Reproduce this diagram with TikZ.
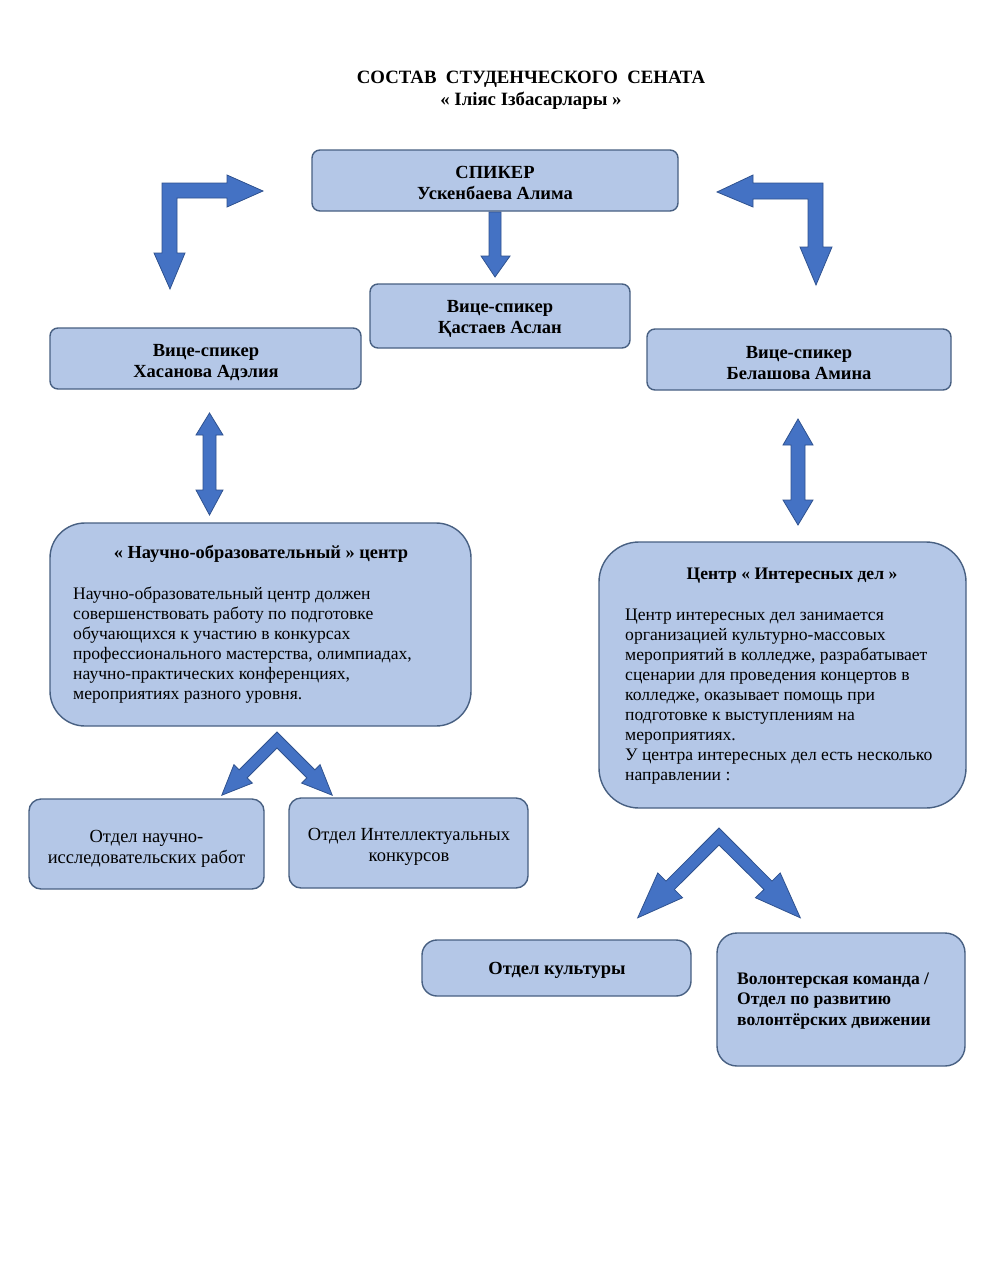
\documentclass[tikz,border=0pt]{standalone}
\usepackage{fontspec}
\setmainfont{Liberation Serif}
\definecolor{boxfill}{RGB}{180,199,231}
\definecolor{boxline}{RGB}{72,96,130}
\definecolor{arrowfill}{RGB}{68,114,196}
\definecolor{arrowline}{RGB}{47,82,143}
\tikzset{
  box/.style={draw=boxline, fill=boxfill, line width=1.4pt, rounded corners=#1, inner sep=0pt, align=center,
    font=\fontsize{18.5}{21}\selectfont},
  box/.default=8pt,
  bbox/.style={box=#1, font=\fontsize{18.5}{21}\selectfont\bfseries},
  bbox/.default=8pt,
  blockarrow/.style={fill=arrowfill, draw=arrowline, line width=0.8pt, line join=miter},
  txt/.style={inner sep=0pt, font=\fontsize{17.6}{20}\selectfont},
  btxt/.style={inner sep=0pt, font=\fontsize{18.4}{20.5}\selectfont\bfseries},
}
\begin{document}
\begin{tikzpicture}[x=1pt,y=-1pt]
\fill[white] (0,0) rectangle (981,1280);
\useasboundingbox (0,0) rectangle (981,1280);

% title
\node[inner sep=0pt, align=center, font=\fontsize{18.8}{22}\selectfont\bfseries] (title) at (531,90)
  {СОСТАВ\ \ СТУДЕНЧЕСКОГО\ \ СЕНАТА\\« Іліяс Ізбасарлары »};

% boxes
\node[bbox, minimum width=366pt, minimum height=61pt] (speaker) at (495,180.5) {};
\node[btxt, align=center, font=\fontsize{18.5}{21}\selectfont\bfseries] (speakerT) at (495,183) {СПИКЕР\\Ускенбаева Алима};
\node[bbox, minimum width=260pt, minimum height=64pt] (vicec) at (500,316) {};
\node[btxt, align=center, font=\fontsize{18.5}{21}\selectfont\bfseries] (vicecT) at (500,318.5) {Вице-спикер\\Қастаев Аслан};
\node[bbox, minimum width=311pt, minimum height=61pt] (vicel) at (205.5,358.5) {};
\node[btxt, align=center, font=\fontsize{18.5}{21}\selectfont\bfseries] (vicelT) at (206,362.5) {Вице-спикер\\Хасанова Адэлия};
\node[bbox, minimum width=304pt, minimum height=61pt] (vicer) at (799,359.5) {};
\node[btxt, align=center, font=\fontsize{18.5}{21}\selectfont\bfseries] (vicerT) at (799,363.5) {Вице-спикер\\Белашова Амина};

\node[box=35pt, minimum width=421pt, minimum height=203pt] (nauch) at (260.5,624.5) {};
\node[btxt] (nauchT) at (261,554) {« Научно-образовательный » центр};
\node[txt, align=left, anchor=west] (nauchB) at (73,645.5)
  {Научно-образовательный центр должен\\совершенствовать работу по подготовке\\обучающихся к участию в конкурсах\\профессионального мастерства, олимпиадах,\\научно-практических конференциях,\\мероприятиях разного уровня.};

\node[box=40pt, minimum width=367pt, minimum height=266pt] (inter) at (782.5,675) {};
\node[btxt, font=\fontsize{17.6}{20}\selectfont\bfseries] (interT) at (792,576) {Центр « Интересных дел »};
\node[txt, align=left, anchor=west] (interB) at (625,697)
  {Центр интересных дел занимается\\организацией культурно-массовых\\мероприятий в колледже, разрабатывает\\сценарии для проведения концертов в\\колледже, оказывает помощь при\\подготовке к выступлениям на\\мероприятиях.\\У центра интересных дел есть несколько\\направлении :};

\node[box=12pt, minimum width=235pt, minimum height=90pt] (dept1) at (146.5,844) {};
\node[txt, align=center, font=\fontsize{18.5}{21}\selectfont] (dept1T) at (146.5,849)
  {Отдел научно-\\исследовательских работ};
\node[box=12pt, minimum width=239pt, minimum height=90pt] (dept2) at (408.5,843) {};
\node[txt, align=center, font=\fontsize{18.5}{21}\selectfont] (dept2T) at (409,847)
  {Отдел Интеллектуальных\\конкурсов};
\node[bbox=15pt, minimum width=269pt, minimum height=56pt] (cult) at (556.5,968) {};
\node[btxt, font=\fontsize{18.5}{21}\selectfont\bfseries] (cultT) at (557,970) {Отдел культуры};
\node[box=20pt, minimum width=248pt, minimum height=133pt] (vol) at (841,999.5) {};
\node[btxt, align=left, anchor=west, font=\fontsize{17.6}{20.5}\selectfont\bfseries] (volT) at (737,1001)
  {Волонтерская команда /\\Отдел по развитию\\волонтёрских движении};

% bent arrow left
\draw[blockarrow] (170,289) -- (185,253) -- (177,253) -- (177,198) -- (227,198) -- (227,207) -- (263,191)
  -- (227,175) -- (227,183) -- (162,183) -- (162,253) -- (154,253) -- cycle;
% bent arrow right
\draw[blockarrow] (717,192) -- (753,175) -- (753,183) -- (823,183) -- (823,247) -- (832,247) -- (816,285)
  -- (800,247) -- (808,247) -- (808,199) -- (753,199) -- (753,207) -- cycle;
% center down arrow
\draw[blockarrow] (489,212) -- (501,212) -- (501,256) -- (510,256) -- (495,277) -- (481,256) -- (489,256) -- cycle;
% double arrow left
\draw[blockarrow] (209.5,413) -- (223,435) -- (216,435) -- (216,490) -- (223,490) -- (209.5,515)
  -- (196,490) -- (203,490) -- (203,435) -- (196,435) -- cycle;
% double arrow right
\draw[blockarrow] (798,419) -- (813,445) -- (805,445) -- (805,500) -- (813,500) -- (798,525)
  -- (783,500) -- (791,500) -- (791,445) -- (783,445) -- cycle;
% fork left
\draw[blockarrow] (277,732) -- (314.9,769.9) -- (320.1,764.7) -- (332.2,795.2) -- (301.7,783.1) -- (306.9,777.9)
  -- (277,748) -- (247.1,777.9) -- (252.3,783.1) -- (221.8,795.2) -- (233.9,764.7) -- (239.1,769.9) -- cycle;
% fork right
\draw[blockarrow] (719,828) -- (772.0,881.1) -- (780.2,872.9) -- (800.3,917.8) -- (755.4,897.7) -- (764.0,889.5)
  -- (719,845) -- (674.4,889.5) -- (682.6,897.7) -- (637.7,917.8) -- (657.8,872.9) -- (666.0,881.1) -- cycle;
\end{tikzpicture}
\end{document}
